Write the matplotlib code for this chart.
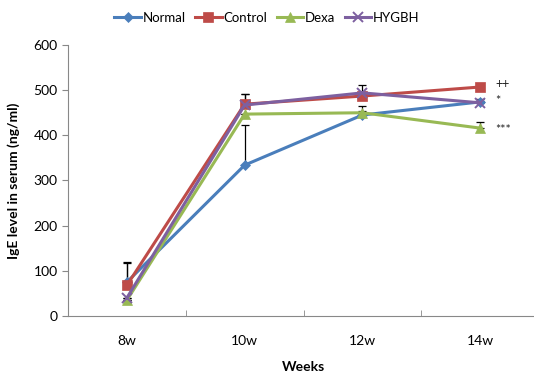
import numpy as np
import matplotlib
matplotlib.use("Agg")
import matplotlib.pyplot as plt

plt.rcParams["font.family"] = ["Lato", "DejaVu Sans"]

weeks = ["8w", "10w", "12w", "14w"]
normal = [75, 334, 445, 474]
control = [68, 469, 487, 507]
dexa = [35, 447, 450, 416]
hygbh = [40, 467, 494, 472]

normal_err = [45, 88, 8, 6]
control_err = [50, 22, 10, 0]
dexa_err = [0, 0, 15, 14]
hygbh_err = [0, 25, 17, 5]

marks = ["++", "*", "***"]
mark_y = [514, 476, 412]

series = [
    ("Normal", normal, normal_err, "#4a7ebb", "D", 5.5),
    ("Control", control, control_err, "#be4b48", "s", 7),
    ("Dexa", dexa, dexa_err, "#98b954", "^", 7.5),
    ("HYGBH", hygbh, hygbh_err, "#7d60a0", "x", 7),
]

fig = plt.figure(figsize=(5.34, 3.8), dpi=100)
ax = fig.add_axes([68 / 534, 64 / 380, 471 / 534, 271 / 380])
x = np.arange(len(weeks))

for name, vals, err, color, marker, ms in series:
    ax.errorbar(x, vals, yerr=[np.zeros(len(err)), err], fmt="none",
                ecolor="black", elinewidth=0.9, capsize=3, capthick=0.9, zorder=2)
for name, vals, err, color, marker, ms in series:
    ax.plot(x, vals, color=color, marker=marker, markersize=ms, linewidth=2.2,
            markeredgewidth=1.4 if marker == "x" else 0.5, markeredgecolor=color,
            label=name, zorder=3)

for txt, yy in zip(marks, mark_y):
    ax.text(3.13, yy, txt, fontsize=9, va="center", ha="left", color="#222222")

ax.set_xlim(-0.5, 3.5)
ax.set_ylim(0, 600)
ax.set_yticks(range(0, 601, 100))
ax.set_xticks(x)
ax.set_xticklabels(weeks)
ax.set_xticks(np.arange(-0.5, 3.6, 1), minor=True)
ax.tick_params(axis="x", which="major", length=0, pad=14, labelsize=10)
ax.tick_params(axis="x", which="minor", direction="in", length=4, color="#888888")
ax.tick_params(axis="y", direction="out", length=4, color="#888888", labelsize=10)
for s in ["top", "right"]:
    ax.spines[s].set_visible(False)
for s in ["left", "bottom"]:
    ax.spines[s].set_color("#888888")

ax.set_ylabel("IgE level in serum (ng/ml)", fontsize=10, fontweight="bold", labelpad=10)
ax.set_xlabel("Weeks", fontsize=10, fontweight="bold", labelpad=10)
fig.legend(loc="upper center", bbox_to_anchor=(0.5, 1.0), ncol=4, frameon=False,
           fontsize=9.5, handlelength=2.0, columnspacing=0.7, handletextpad=0.15)

fig.savefig("out.png", dpi=100)
